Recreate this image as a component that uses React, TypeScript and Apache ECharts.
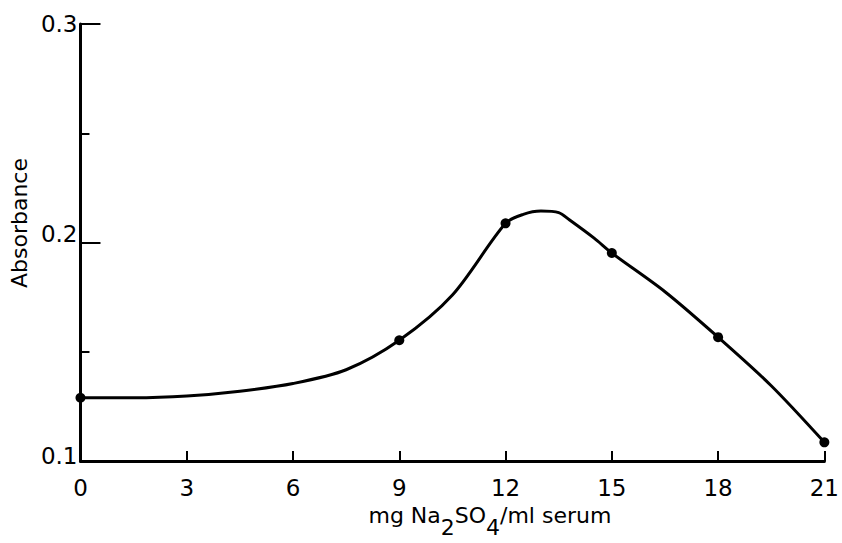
import React, { useEffect, useRef } from "react";
import * as echarts from "echarts";

// Measured points
const pointX = [0, 9, 12, 15, 18, 21];
const pointY = [0.129, 0.1553, 0.2088, 0.1952, 0.1567, 0.1086];

// Hand-drawn curve
const curveX = [0, 1.5, 3, 4.5, 6, 7.5, 9, 10.5, 12, 12.5, 13, 13.5, 13.8, 14.5, 15, 16.5, 18, 19.5, 21];
const curveY = [0.129, 0.129, 0.1298, 0.132, 0.1355, 0.1418, 0.1553, 0.176, 0.2088, 0.2129, 0.2144, 0.2137, 0.2104, 0.202, 0.1952, 0.1775, 0.1567, 0.1345, 0.1086];

const xTicks = { min: 0, max: 21, interval: 3 };
const yTicks = { min: 0.1, max: 0.3, interval: 0.1 };

const FONT = "DejaVu Sans";

export default function App() {
  const ref = useRef<HTMLDivElement>(null);
  useEffect(() => {
    if (!ref.current) return;
    const chart = echarts.init(ref.current, undefined, { renderer: "svg" });
    chart.setOption({
      animation: false,
      backgroundColor: "#ffffff",
      grid: { left: 76, right: 9, top: 24, bottom: 78, containLabel: false },
      xAxis: {
        type: "value",
        min: xTicks.min,
        max: xTicks.max,
        interval: xTicks.interval,
        splitLine: { show: false },
        axisLine: { show: true, lineStyle: { color: "#000", width: 3 } },
        axisTick: { show: true, inside: true, length: 10, lineStyle: { color: "#000", width: 2 } },
        axisLabel: { color: "#000", fontSize: 23, fontFamily: FONT, margin: 15 },
        name: "{m|mg Na}{s|2}{m|SO}{s|4}{m|/ml serum}",
        nameLocation: "middle",
        nameGap: 38,
        nameTextStyle: {
          padding: [0, 0, 0, 75],
          rich: {
            m: { fontSize: 22, fontFamily: FONT, color: "#000", lineHeight: 24, verticalAlign: "top" },
            s: { fontSize: 22, fontFamily: FONT, color: "#000", lineHeight: 24, verticalAlign: "top", padding: [12, 0, 0, 0] },
          },
        },
      },
      yAxis: {
        type: "value",
        min: yTicks.min,
        max: yTicks.max,
        interval: yTicks.interval,
        splitLine: { show: false },
        axisLine: { show: true, lineStyle: { color: "#000", width: 3 } },
        axisTick: { show: true, inside: true, length: 20, lineStyle: { color: "#000", width: 2 } },
        minorTick: { show: true, splitNumber: 2, length: 9, lineStyle: { color: "#000", width: 2 } },
        minorSplitLine: { show: false },
        axisLabel: {
          margin: 3,
          formatter: (v: number) => {
            const s = v.toFixed(1);
            if (Math.abs(v - 0.3) < 1e-6) return `{a|${s}}`;
            if (Math.abs(v - 0.2) < 1e-6) return `{b|${s}}`;
            return `{c|${s}}`;
          },
          rich: {
            a: { fontSize: 23, fontFamily: FONT, color: "#000", lineHeight: 22 },
            b: { fontSize: 23, fontFamily: FONT, color: "#000", lineHeight: 22, padding: [0, 0, 17, 0] },
            c: { fontSize: 23, fontFamily: FONT, color: "#000", lineHeight: 22, padding: [0, 0, 10, 0] },
          },
        },
        name: "Absorbance",
        nameLocation: "middle",
        nameGap: 40,
        nameTextStyle: { fontSize: 22, fontFamily: FONT, color: "#000", padding: [0, 0, 0, 39] },
      },
      series: [
        {
          type: "line",
          data: curveX.map((x, i) => [x, curveY[i]]),
          smooth: 0.3,
          symbol: "none",
          lineStyle: { color: "#000", width: 3 },
          z: 2,
        },
        {
          type: "scatter",
          data: pointX.map((x, i) => [x, pointY[i]]),
          symbol: "circle",
          symbolSize: 10,
          itemStyle: { color: "#000", opacity: 1 },
          z: 3,
        },
      ],
    });
    return () => chart.dispose();
  }, []);
  return (
    <div
      ref={ref}
      style={{ position: "fixed", left: 0, top: 0, width: 842, height: 543, background: "#fff" }}
    />
  );
}
